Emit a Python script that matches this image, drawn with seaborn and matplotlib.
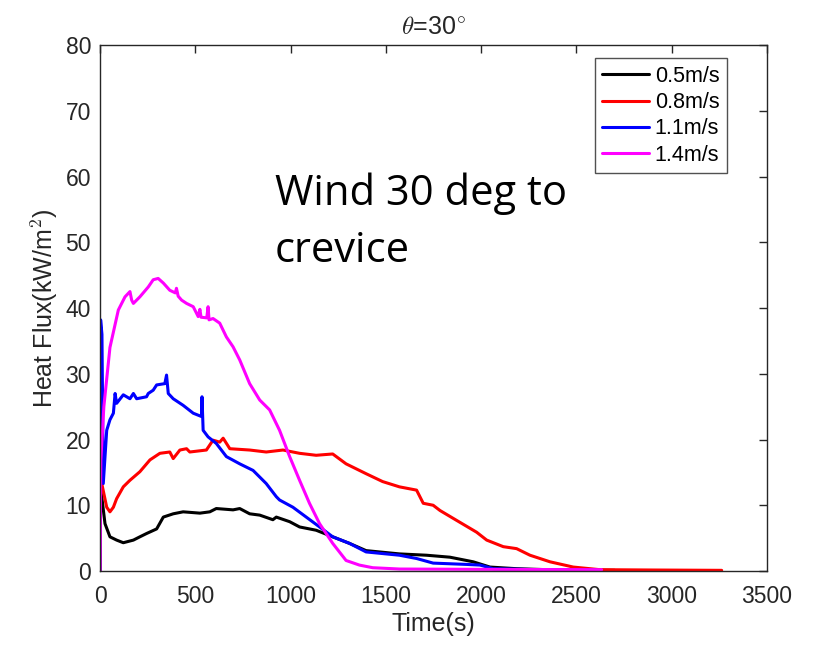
import seaborn as sns
import matplotlib.pyplot as plt
import pandas as pd

# Data (time in s, heat flux in kW/m^2)
labels = ['0.5m/s', '0.8m/s', '1.1m/s', '1.4m/s']
colors = ['black', 'red', 'blue', 'magenta']

t_05 = [0, 2, 9, 26, 52, 87, 122, 175, 209, 244, 297, 332, 384, 436, 524, 576, 610, 698, 733,
        785, 838, 907, 925, 995, 1047, 1134, 1221, 1309, 1396, 1571, 1713, 1836, 1958, 2046,
        2186, 2400, 2700]
q_05 = [0, 12.5, 11.3, 7.2, 5.2, 4.7, 4.3, 4.7, 5.2, 5.7, 6.4, 8.2, 8.7, 9.0, 8.8, 9.0, 9.5, 9.3,
        9.5, 8.7, 8.5, 7.8, 8.2, 7.5, 6.7, 6.2, 5.2, 4.2, 3.1, 2.6, 2.4, 2.1, 1.4, 0.6, 0.35, 0.15, 0.1]

t_08 = [0, 3, 9, 35, 52, 70, 87, 122, 157, 209, 262, 314, 366, 384, 419, 454, 471, 558, 593, 628,
        646, 681, 785, 872, 960, 1047, 1134, 1221, 1291, 1396, 1483, 1571, 1661, 1696, 1748, 1784,
        1871, 1976, 2029, 2116, 2186, 2256, 2361, 2483, 2623, 2900, 3262]
q_08 = [0, 14.0, 13.3, 9.7, 9.0, 9.7, 11.0, 12.8, 13.8, 15.1, 16.9, 17.9, 18.1, 17.1, 18.4, 18.6,
        18.1, 18.4, 19.9, 19.6, 20.2, 18.6, 18.4, 18.1, 18.4, 17.9, 17.6, 17.8, 16.3, 14.8, 13.6,
        12.8, 12.3, 10.3, 10.0, 9.2, 7.7, 5.9, 4.7, 3.7, 3.4, 2.4, 1.4, 0.6, 0.2, 0.15, 0.1]

t_11 = [0, 3, 10, 17, 35, 52, 70, 79, 87, 122, 157, 175, 192, 244, 253, 279, 297, 340, 349, 358,
        384, 436, 489, 532, 535, 541, 567, 610, 663, 733, 803, 872, 925, 942, 1012, 1082, 1152,
        1221, 1309, 1396, 1571, 1661, 1748, 1924, 1994, 2063, 2300, 2600]
q_11 = [0, 38.2, 36.0, 13.3, 21.4, 23.0, 24.0, 27.0, 25.5, 26.8, 26.2, 27.0, 26.2, 26.5, 27.0,
        27.5, 28.3, 28.5, 29.8, 27.0, 26.2, 25.2, 24.0, 23.5, 26.5, 21.4, 20.4, 19.4, 17.4, 16.3,
        15.3, 13.3, 11.3, 10.8, 9.7, 8.2, 6.7, 5.2, 4.2, 2.9, 2.4, 1.9, 1.2, 1.0, 0.9, 0.35, 0.2, 0.15]

t_14 = [0, 4, 20, 52, 96, 131, 157, 166, 175, 209, 253, 279, 305, 332, 366, 395, 401, 410, 428,
        454, 489, 515, 524, 530, 560, 567, 572, 593, 628, 663, 698, 733, 785, 838, 890, 942, 995,
        1047, 1099, 1152, 1221, 1291, 1361, 1431, 1571, 2000, 2632]
q_14 = [0, 16.8, 25.0, 34.0, 39.7, 41.7, 42.5, 41.2, 40.7, 41.7, 43.2, 44.3, 44.5, 43.8, 42.7,
        42.3, 43.0, 41.8, 41.2, 40.7, 40.2, 38.7, 39.8, 38.6, 38.5, 40.2, 38.2, 38.4, 37.7, 35.6,
        34.1, 32.1, 28.5, 26.0, 24.5, 21.4, 17.4, 13.8, 10.3, 7.2, 4.2, 1.6, 0.9, 0.5, 0.3, 0.25, 0.2]

frames = []
for lab, t, q in zip(labels, [t_05, t_08, t_11, t_14], [q_05, q_08, q_11, q_14]):
    frames.append(pd.DataFrame({'Time': t, 'Flux': q, 'Speed': lab}))
df = pd.concat(frames, ignore_index=True)

sns.set_style('white')
plt.rcParams['font.family'] = ['Liberation Sans', 'DejaVu Sans']
plt.rcParams['mathtext.fontset'] = 'cm'

fig = plt.figure(figsize=(8.14, 6.46), dpi=100)
ax = fig.add_axes([0.1229, 0.1161, 0.8194, 0.8142])

sns.lineplot(data=df, x='Time', y='Flux', hue='Speed', palette=dict(zip(labels, colors)),
             estimator=None, sort=False, linewidth=2.2, ax=ax)

ax.set_xlim(0, 3500)
ax.set_ylim(0, 80)
ax.set_xticks(range(0, 3501, 500))
ax.set_yticks(range(0, 81, 10))
ax.tick_params(direction='in', length=6, width=1, colors='#262626', labelsize=16.5,
               top=True, right=True, labeltop=False, labelright=False)
ax.tick_params(axis='x', pad=10)
ax.tick_params(axis='y', pad=6.5)
for s in ax.spines.values():
    s.set_color('#262626')
    s.set_linewidth(1)

ax.set_xlabel('Time(s)', fontsize=18, color='#262626', labelpad=3)
ax.set_ylabel('Heat Flux(kW/m$^2$)', fontsize=18, color='#262626', labelpad=4)
ax.set_title(r'$\theta$=30$^{\circ}$', fontsize=18, color='#262626', pad=8)

leg = ax.legend(loc='upper right', bbox_to_anchor=(0.94, 0.975), fontsize=15.5, frameon=True,
                fancybox=False, edgecolor='#262626', handlelength=2.2, borderpad=0.35,
                labelspacing=0.25, handletextpad=0.25, borderaxespad=0)
leg.get_frame().set_linewidth(1)
for txt in leg.get_texts():
    txt.set_color('black')

fig.text(0.3378, 1 - 205 / 646, 'Wind 30 deg to', fontsize=30, family='Open Sans',
         va='baseline', ha='left', color='black')
fig.text(0.3378, 1 - 262 / 646, 'crevice', fontsize=30, family='Open Sans',
         va='baseline', ha='left', color='black')

fig.savefig('out.png', dpi=100)
